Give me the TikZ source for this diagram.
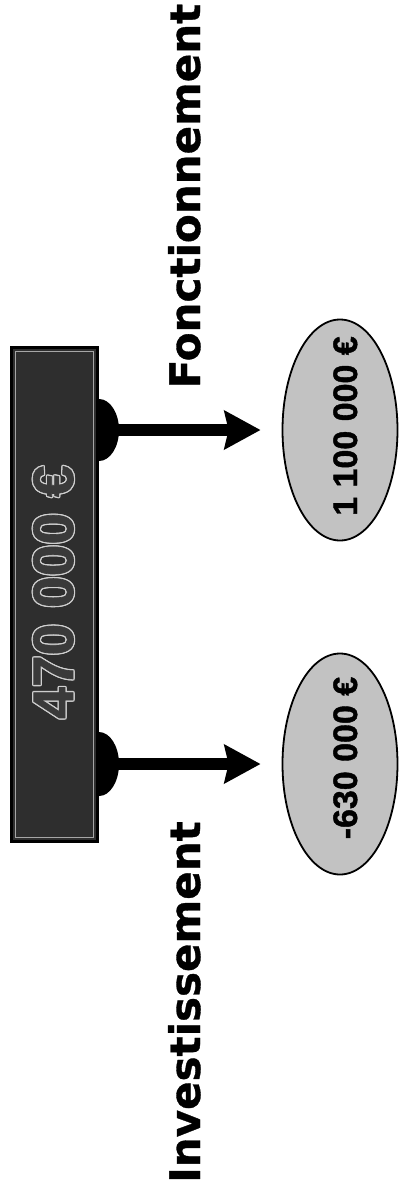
\documentclass[tikz,border=0pt]{standalone}
\usepackage{fontspec}
\setmainfont{Liberation Sans}
\newfontfamily\labfont{DejaVu Sans}[BoldFeatures={FakeBold=0.8}]
\newfontfamily\valfont{Liberation Sans}[BoldFeatures={FakeBold=1.2}]
\usetikzlibrary{shapes.geometric,arrows.meta}
\definecolor{rectfill}{HTML}{2E2E2E}
\definecolor{ellfill}{HTML}{C2C2C2}
\definecolor{embossdark}{HTML}{3A3A3A}
\definecolor{embosslight}{HTML}{CFCFCF}
\tikzset{
  valbox/.style={ellipse, draw=black, line width=1.8pt, fill=ellfill, minimum width=115pt, minimum height=221pt, inner sep=0pt},
  valtext/.style={rotate=90, anchor=base, inner sep=0pt, font=\valfont\fontsize{34}{40}\selectfont\bfseries},
  labtext/.style={rotate=90, anchor=base, inner sep=0pt, font=\labfont\fontsize{42}{50}\selectfont\bfseries},
  bigtext/.style={rotate=90, anchor=base, inner sep=0pt, font=\valfont\fontsize{57}{66}\selectfont\bfseries},
  flow/.style={line width=12pt, -{Stealth[length=36pt, width=38pt, inset=4pt]}, shorten >=21pt},
}
\begin{document}
\begin{tikzpicture}[x=1pt, y=-1pt]
\useasboundingbox[fill=white] (0,0) rectangle (403,1192);
% main box
\node[draw=black, line width=3.5pt, fill=rectfill, minimum width=86pt, minimum height=494pt, inner sep=0pt] (total) at (54.5,594.5) {};
\node[draw=gray!70, line width=1pt, minimum width=78pt, minimum height=486pt, inner sep=0pt] (totalinner) at (54.5,594.5) {};
% embossed text
\foreach \dx/\dy [count=\i] in {-1.3/0,1.3/0,0/-1.3,0/1.3,-1/-1,1/1,-1/1,1/-1}
  \node[bigtext, text=embosslight] (emb\i) at (73+\dx,592+\dy) {470 000 €};
\node[bigtext, text=embossdark] (big) at (73,592) {470 000 €};
% bumps
\coordinate (bf) at (99,430);
\coordinate (bi) at (99,764);
\fill[black] (bf) ++(0,-31) arc[start angle=90, end angle=-90, x radius=20pt, y radius=31pt] -- cycle;
\fill[black] (bi) ++(0,-32) arc[start angle=90, end angle=-90, x radius=20pt, y radius=32pt] -- cycle;
% ellipses
\node[valbox] (ef) at (340,430) {};
\node[valbox] (ei) at (340,764) {};
\node[valtext] (tf) at (357,426) {1 100 000 €};
\node[valtext] (ti) at (357,758) {-630 000 €};
% arrows
\draw[flow] (bf) ++(18,0) coordinate (sf) -- (ef.west);
\draw[flow] (bi) ++(18,0) coordinate (si) -- (ei.west);
% labels
\node[labtext] (lf) at (200,196) {Fonctionnement};
\node[labtext] (li) at (200,1002) {Investissement};
\end{tikzpicture}
\end{document}
